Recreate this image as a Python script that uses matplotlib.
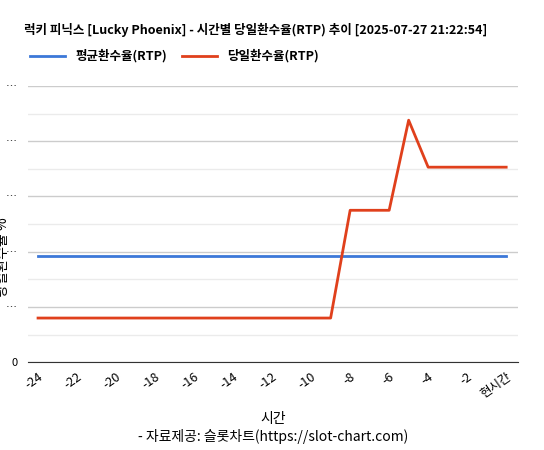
import matplotlib.pyplot as plt
from matplotlib.ticker import MultipleLocator

plt.rcParams['font.family'] = ['Noto Sans CJK KR', 'DejaVu Sans']

hours = list(range(-24, 1))
avg_rtp = [1.92] * 25
day_rtp = [0.8] * 16 + [2.75, 2.75, 2.75, 4.38, 3.53, 3.53, 3.53, 3.53, 3.53]
xticks = list(range(-24, 1, 2))
xlabels = [str(v) for v in xticks[:-1]] + ['현시간']
yticks = [0, 1, 2, 3, 4, 5]
ylabels = ['0'] + ['…'] * 5

fig = plt.figure(figsize=(5.44, 4.5), dpi=100)
ax = fig.add_axes([0.052, 0.195, 0.9, 0.614])
ax.plot(hours, avg_rtp, color='#3c78d8', lw=2, label='평균환수율(RTP)')
ax.plot(hours, day_rtp, color='#e0401c', lw=2, label='당일환수율(RTP)')
ax.set_xlim(-24.5, 0.6)
ax.set_ylim(0, 5)
ax.set_yticks(yticks, ylabels, fontsize=8)
ax.yaxis.set_minor_locator(MultipleLocator(0.5))
ax.set_xticks(xticks, xlabels, rotation=35, ha='right', rotation_mode='anchor', fontsize=9)
ax.grid(True, axis='y', which='major', color='#cccccc', lw=1)
ax.grid(True, axis='y', which='minor', color='#ebebeb', lw=1)
ax.tick_params(length=0, which='both')
ax.tick_params(axis='y', pad=8)
ax.tick_params(axis='x', pad=6)
for s in ['top', 'right', 'left']:
    ax.spines[s].set_visible(False)
ax.spines['bottom'].set_color('#333333')
ax.set_ylabel('당일환수율 %', fontsize=10)
ax.yaxis.set_label_coords(-0.038, 0.38)
ax.set_xlabel('시간\n- 자료제공: 슬롯차트(https://slot-chart.com)', fontsize=10, labelpad=8)
fig.text(0.045, 0.925, '럭키 피닉스 [Lucky Phoenix] - 시간별 당일환수율(RTP) 추이 [2025-07-27 21:22:54]',
         fontsize=9, fontweight='bold')
fig.legend(loc='upper left', bbox_to_anchor=(0.035, 0.915), ncol=2, frameon=False,
           prop={'weight': 'bold', 'size': 9}, handlelength=2.8, columnspacing=1.2)
fig.savefig('out.png')
